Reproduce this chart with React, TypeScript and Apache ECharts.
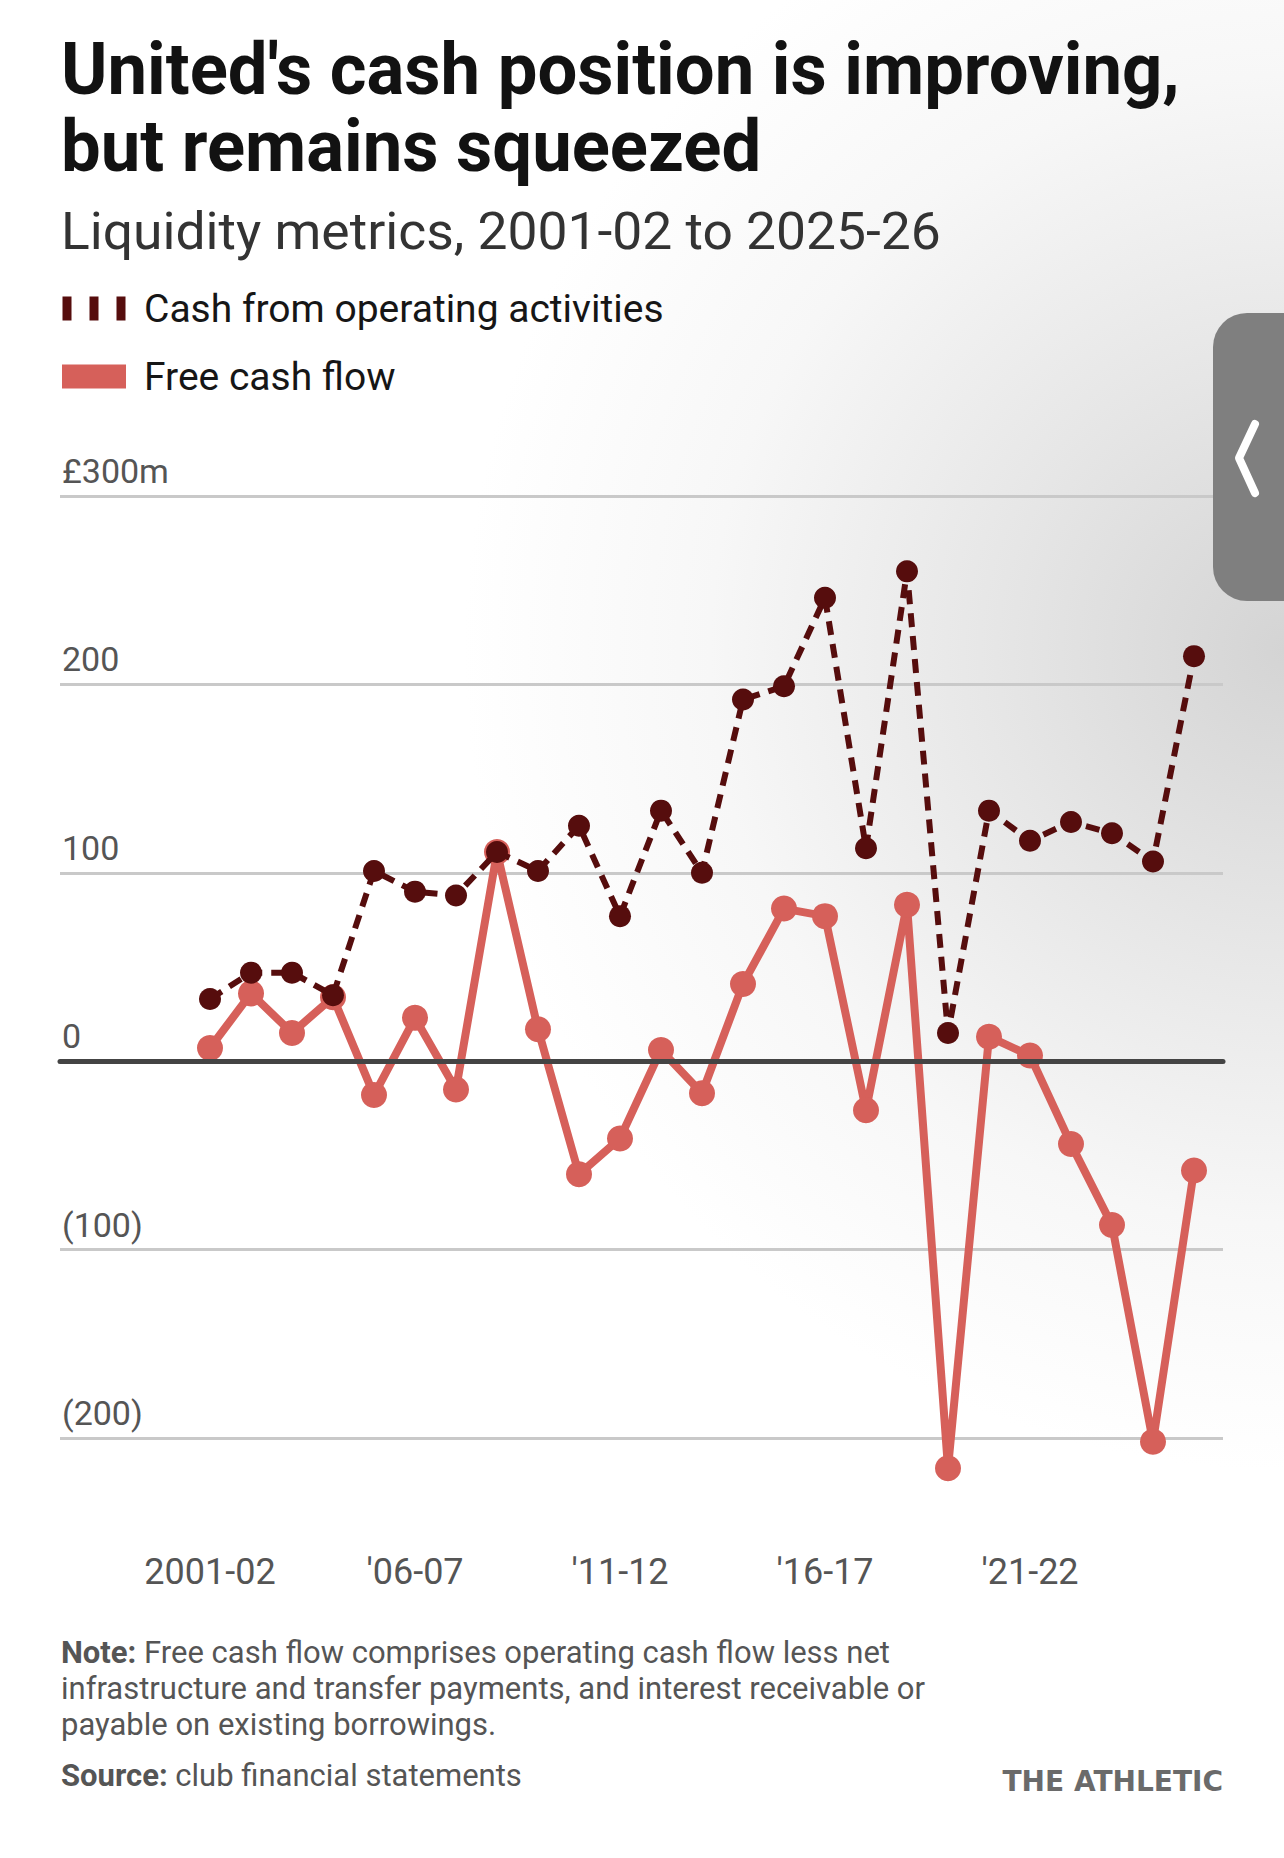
import React, { useEffect, useRef } from 'react';
import * as echarts from 'echarts';

// ---------- data ----------
const categories = [
  '2001-02', '2002-03', '2003-04', '2004-05', '2005-06', '2006-07', '2007-08', '2008-09',
  '2009-10', '2010-11', '2011-12', '2012-13', '2013-14', '2014-15', '2015-16', '2016-17',
  '2017-18', '2018-19', '2019-20', '2020-21', '2021-22', '2022-23', '2023-24', '2024-25', '2025-26',
];
const operatingCash = [33, 47, 47, 35, 101, 90, 88, 111, 101, 125, 77, 133, 100, 192, 199, 246, 113, 260, 15, 133, 117, 127, 121, 106, 215];
const freeCashFlow = [7, 36, 15, 34, -18, 23, -15, 111, 17, -60, -41, 6, -17, 41, 81, 77, -26, 83, -216, 13, 3, -44, -87, -202, -58];
const yMin = -200;
const yMax = 300;
const yStep = 100;
const xLabelEvery = 5;

const TITLE_LINES = ["United's cash position is improving,", 'but remains squeezed'];
const SUBTITLE = 'Liquidity metrics, 2001-02 to 2025-26';
const SERIES_OPERATING = 'Cash from operating activities';
const SERIES_FREE = 'Free cash flow';
const NOTE_LINES = [
  '{b|Note:} Free cash flow comprises operating cash flow less net',
  'infrastructure and transfer payments, and interest receivable or',
  'payable on existing borrowings.',
];
const SOURCE = '{b|Source:} club financial statements';
const BRAND = 'THE ATHLETIC';

// ---------- style ----------
const W = 1284;
const H = 1858;
const FONT = 'Roboto, "Noto Sans", sans-serif';
const DARK = '#560d0d';
const RED = '#d6605a';
const GRID_GRAY = '#c9c9c9';
const LABEL_GRAY = '#555555';

function measure(text: string, font: string): number {
  const c = document.createElement('canvas');
  const ctx = c.getContext('2d');
  if (!ctx) return 0;
  ctx.font = font;
  return ctx.measureText(text).width;
}

export default function App() {
  const ref = useRef<HTMLDivElement>(null);

  useEffect(() => {
    if (!ref.current) return;
    const chart = echarts.init(ref.current, undefined, { renderer: 'svg' });

    const titleSize = 72;
    const titleW = measure(TITLE_LINES[0], `bold ${titleSize}px Roboto`) || 1119;
    const titleScale = 1119 / titleW;
    const subSize = 52;
    const subW = measure(SUBTITLE, `${subSize}px Roboto`) || 880;
    const subScale = 880 / subW;

    const bg = new echarts.graphic.RadialGradient(1284, 650, 820, [
      { offset: 0, color: '#d4d4d4' },
      { offset: 0.35, color: '#e6e6e6' },
      { offset: 0.7, color: '#f7f7f7' },
      { offset: 1, color: '#ffffff' },
    ], true);

    const noteStyle = (t: string) => ({
      text: t, fontFamily: FONT, fontSize: 31, fill: '#555555', verticalAlign: 'middle',
      rich: { b: { fontFamily: FONT, fontSize: 31, fontWeight: 'bold', fill: '#555555' } },
    });

    const option: any = {
      animation: false,
      backgroundColor: '#ffffff',
      textStyle: { fontFamily: FONT },
      grid: [
        { left: 60, right: 61, top: 496, bottom: 420 },
        { left: 210, right: 90, top: 496, bottom: 420 },
      ],
      legend: {
        orient: 'vertical',
        left: 62,
        top: 289,
        padding: 0,
        itemWidth: 64,
        itemHeight: 24,
        itemGap: 29,
        selectedMode: false,
        itemStyle: { borderWidth: 0 },
        lineStyle: { width: 0 },
        textStyle: { fontFamily: FONT, fontSize: 39, color: '#161616', padding: [0, 0, 0, 13] },
        data: [
          { name: SERIES_OPERATING, icon: 'path://M0 0h9v24h-9zM27 0h9v24h-9zM54 0h9v24h-9z', itemStyle: { color: DARK } },
          { name: SERIES_FREE, icon: 'rect', itemStyle: { color: RED } },
        ],
      },
      xAxis: [
        {
          gridIndex: 0,
          type: 'value',
          min: 0,
          max: 1,
          z: 3,
          axisLine: { show: true, onZero: true, lineStyle: { color: '#444444', width: 5 } },
          axisTick: { show: false },
          axisLabel: { show: false },
          splitLine: { show: false },
        },
        {
          gridIndex: 1,
          type: 'category',
          data: categories,
          boundaryGap: false,
          axisLine: { show: false, onZero: false },
          axisTick: { show: false },
          splitLine: { show: false },
          axisLabel: {
            interval: (i: number) => i % xLabelEvery === 0,
            margin: 116,
            fontSize: 36,
            fontFamily: FONT,
            color: LABEL_GRAY,
            formatter: (v: string, i: number) => (i === 0 ? v : "'" + v.slice(2)),
          },
        },
      ],
      yAxis: [
        {
          gridIndex: 0,
          type: 'value',
          min: yMin,
          max: yMax,
          interval: yStep,
          axisLine: { show: false },
          axisTick: { show: false },
          splitLine: { show: true, lineStyle: { color: GRID_GRAY, width: 3 } },
          axisLabel: {
            inside: true,
            margin: 2,
            align: 'left',
            verticalAlign: 'bottom',
            padding: [0, 0, 8, 0],
            fontSize: 34,
            fontFamily: FONT,
            color: LABEL_GRAY,
            formatter: (v: number) => (v === yMax ? '£' + v + 'm' : v < 0 ? '(' + -v + ')' : String(v)),
          },
        },
        { gridIndex: 1, type: 'value', min: yMin, max: yMax, interval: yStep, show: false },
      ],
      series: [
        {
          name: SERIES_FREE,
          type: 'line',
          xAxisIndex: 1,
          yAxisIndex: 1,
          data: freeCashFlow,
          clip: false,
          symbol: 'circle',
          symbolSize: 26,
          showAllSymbol: true,
          z: 2,
          lineStyle: { color: RED, width: 8, join: 'round' },
          itemStyle: { color: RED },
        },
        {
          name: SERIES_OPERATING,
          type: 'line',
          xAxisIndex: 1,
          yAxisIndex: 1,
          data: operatingCash,
          clip: false,
          symbol: 'circle',
          symbolSize: 22,
          showAllSymbol: true,
          z: 4,
          lineStyle: { color: DARK, width: 6, type: [14, 9] },
          itemStyle: { color: DARK },
        },
      ],
      graphic: [
        { type: 'rect', z: -100, silent: true, shape: { x: 0, y: 0, width: W, height: H }, style: { fill: bg } },
        {
          type: 'text', x: 61, y: 69, scaleX: titleScale,
          style: { text: TITLE_LINES[0], fontFamily: 'Roboto', fontWeight: 'bold', fontSize: titleSize, fill: '#121212', verticalAlign: 'middle' },
        },
        {
          type: 'text', x: 61, y: 146, scaleX: titleScale,
          style: { text: TITLE_LINES[1], fontFamily: 'Roboto', fontWeight: 'bold', fontSize: titleSize, fill: '#121212', verticalAlign: 'middle' },
        },
        {
          type: 'text', x: 61, y: 231, scaleX: subScale,
          style: { text: SUBTITLE, fontFamily: 'Roboto', fontSize: subSize, fill: '#333333', verticalAlign: 'middle' },
        },
        ...NOTE_LINES.map((t, i) => ({ type: 'text', x: 61, y: 1652 + i * 36, style: noteStyle(t) })),
        { type: 'text', x: 61, y: 1775, style: noteStyle(SOURCE) },
        {
          type: 'text', x: 1223, y: 1781,
          style: { text: BRAND, fontFamily: '"DejaVu Sans", sans-serif', fontWeight: 'bold', fontSize: 28, fill: '#6a6a6a', align: 'right', verticalAlign: 'middle' },
        },
        {
          type: 'rect', z: 100, silent: true,
          shape: { x: 1213, y: 313, width: 90, height: 288, r: [34, 0, 0, 34] },
          style: { fill: '#7f7f7f' },
        },
        {
          type: 'polyline', z: 101, silent: true,
          shape: { points: [[1255, 424], [1239, 458], [1255, 493]] },
          style: { stroke: '#ffffff', lineWidth: 8, lineCap: 'round', lineJoin: 'round', fill: null },
        },
      ],
    };

    chart.setOption(option);
    return () => chart.dispose();
  }, []);

  return <div ref={ref} style={{ position: 'fixed', left: 0, top: 0, width: W, height: H }} />;
}
